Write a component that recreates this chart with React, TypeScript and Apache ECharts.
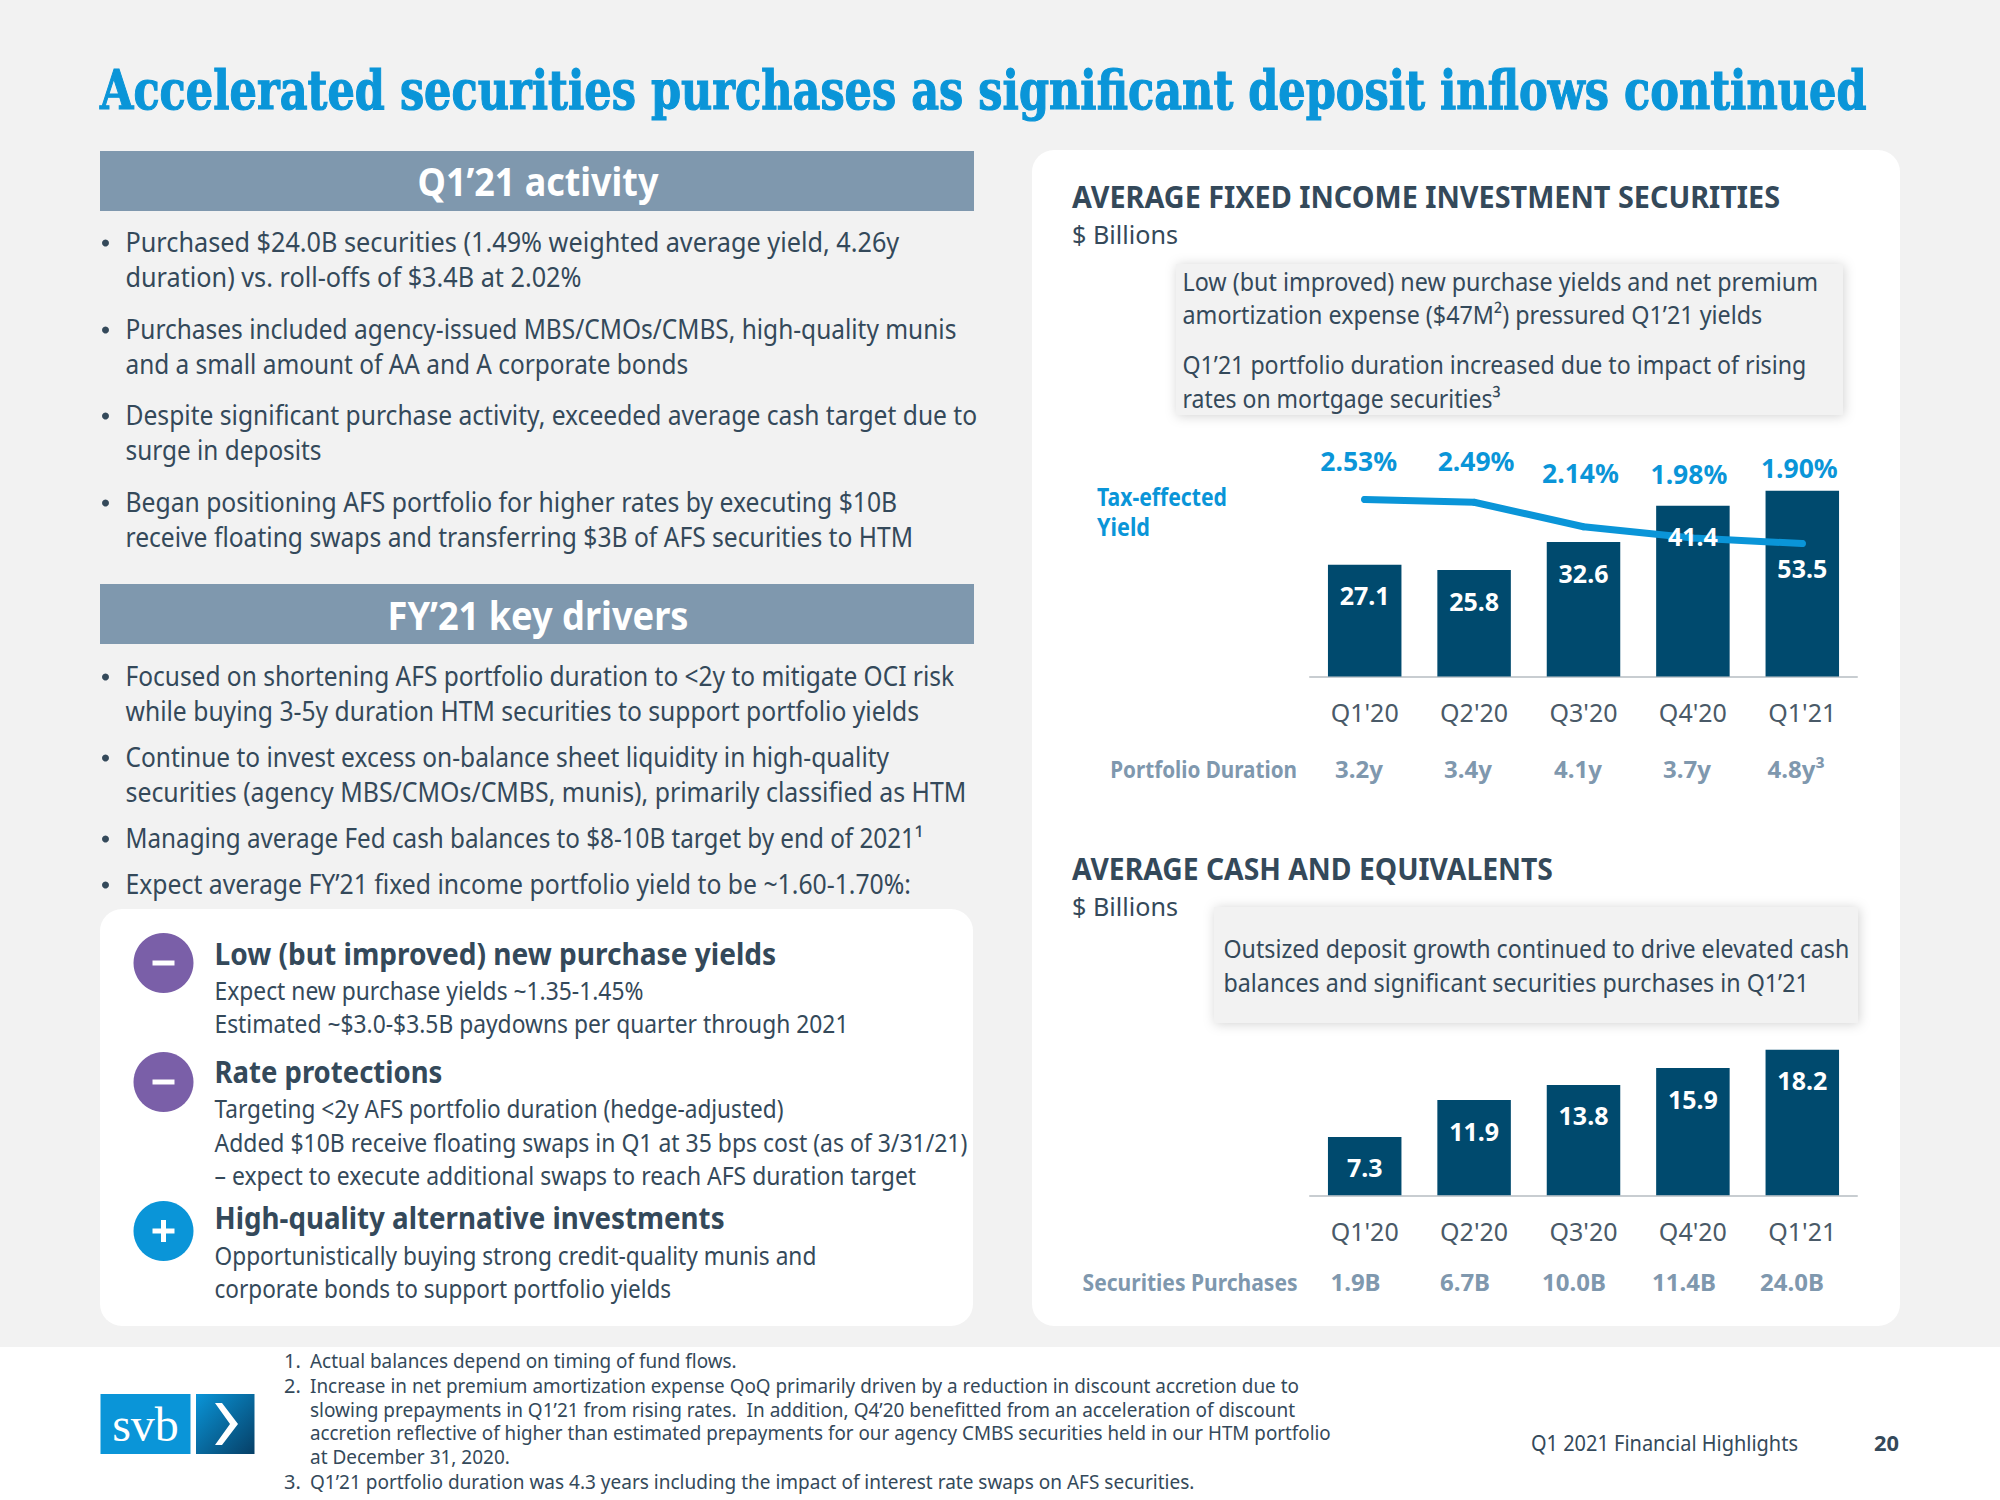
import React, { useEffect, useRef } from "react";
import * as echarts from "echarts";

const quarters = ["Q1'20", "Q2'20", "Q3'20", "Q4'20", "Q1'21"];
const securitiesValues = [27.1, 25.8, 32.6, 41.4, 53.5];
const yieldValues = [2.53, 2.49, 2.14, 1.98, 1.9];
const cashValues = [7.3, 11.9, 13.8, 15.9, 18.2];
const durationLabels = ["3.2y", "3.4y", "4.1y", "3.7y", "4.8y³"];
const purchaseLabels = ["1.9B", "6.7B", "10.0B", "11.4B", "24.0B"];

const BODY = '"Noto Sans"';
const INK = "#34495a";
const SLATE = "#7f98ae";
const BLUE = "#0a95d8";
const NAVY = "#004a6e";
const PURPLE = "#7a5fa8";

const ctx = document.createElement("canvas").getContext("2d") as CanvasRenderingContext2D;

type Opt = { size: number; weight?: number; color?: string; width?: number; align?: string; family?: string; central?: number; stroke?: number };
function T(text: string, x: number, base: number, o: Opt) {
  const { size, weight = 400, color = INK, width, align = "left", family = BODY, central = 0.388, stroke = 0 } = o;
  const font = `${weight} ${size}px ${family}`;
  ctx.font = font;
  const measured = ctx.measureText(text).width;
  const scaleX = width ? width / measured : 1;
  return {
    type: "text",
    x,
    y: base - central * size,
    scaleX,
    silent: true,
    style: {
      text, font, fill: color, textAlign: align, textVerticalAlign: "middle",
      ...(stroke ? { stroke: color, lineWidth: stroke } : {}),
    },
  };
}

const activity: [string, number, number][] = [
  ["Purchased $24.0B securities (1.49% weighted average yield, 4.26y", 252, 774],
  ["duration) vs. roll-offs of $3.4B at 2.02%", 287, 456],
  ["Purchases included agency-issued MBS/CMOs/CMBS, high-quality munis", 339, 831],
  ["and a small amount of AA and A corporate bonds", 374, 563],
  ["Despite significant purchase activity, exceeded average cash target due to", 425, 852],
  ["surge in deposits", 460, 196],
  ["Began positioning AFS portfolio for higher rates by executing $10B", 512, 772],
  ["receive floating swaps and transferring $3B of AFS securities to HTM", 547, 788],
  ["Focused on shortening AFS portfolio duration to <2y to mitigate OCI risk", 686, 829],
  ["while buying 3-5y duration HTM securities to support portfolio yields", 721, 794],
  ["Continue to invest excess on-balance sheet liquidity in high-quality", 767, 764],
  ["securities (agency MBS/CMOs/CMBS, munis), primarily classified as HTM", 802, 841],
  ["Managing average Fed cash balances to $8-10B target by end of 2021¹", 848, 798],
  ["Expect average FY’21 fixed income portfolio yield to be ~1.60-1.70%:", 894, 786],
];
const bulletBaselines = [252, 339, 425, 512, 686, 767, 848, 894];

const driverHeads: [string, number, number][] = [
  ["Low (but improved) new purchase yields", 965, 562],
  ["Rate protections", 1083, 228],
  ["High-quality alternative investments", 1229, 510],
];
const driverLines: [string, number, number][] = [
  ["Expect new purchase yields ~1.35-1.45%", 1000, 429],
  ["Estimated ~$3.0-$3.5B paydowns per quarter through 2021", 1033, 634],
  ["Targeting <2y AFS portfolio duration (hedge-adjusted)", 1118, 569],
  ["Added $10B receive floating swaps in Q1 at 35 bps cost (as of 3/31/21)", 1152, 754],
  ["– expect to execute additional swaps to reach AFS duration target", 1185, 702],
  ["Opportunistically buying strong credit-quality munis and", 1265, 602],
  ["corporate bonds to support portfolio yields", 1298, 457],
];
const callout1: [string, number, number][] = [
  ["Low (but improved) new purchase yields and net premium", 291, 636],
  ["amortization expense ($47M²) pressured Q1’21 yields", 324, 580],
  ["Q1’21 portfolio duration increased due to impact of rising", 374, 624],
  ["rates on mortgage securities³", 408, 318],
];
const callout2: [string, number, number][] = [
  ["Outsized deposit growth continued to drive elevated cash", 958, 626],
  ["balances and significant securities purchases in Q1’21", 992, 586],
];
const footnotes: [string, number, number][] = [
  ["Actual balances depend on timing of fund flows.", 1368, 427],
  ["Increase in net premium amortization expense QoQ primarily driven by a reduction in discount accretion due to", 1393, 990],
  ["slowing prepayments in Q1’21 from rising rates.  In addition, Q4’20 benefitted from an acceleration of discount", 1417, 985],
  ["accretion reflective of higher than estimated prepayments for our agency CMBS securities held in our HTM portfolio", 1440, 1021],
  ["at December 31, 2020.", 1464, 200],
  ["Q1’21 portfolio duration was 4.3 years including the impact of interest rate swaps on AFS securities.", 1489, 885],
];
const footnoteNumbers: [string, number][] = [["1.", 1368], ["2.", 1393], ["3.", 1489]];

const durationX = [1359, 1468, 1578, 1687, 1796];
const purchaseX = [1355.5, 1465, 1574, 1684, 1792];

const yieldLabelOffsets = [[-6, -16], [2, -19], [-3, -32], [-4, -42], [-3, -54]];
const securitiesLabelDistance = [18, 18, 19, 18, 65];

function buildGraphic() {
  const els: any[] = [];
  const rect = (x: number, y: number, width: number, height: number, fill: any, r = 0, extra: any = {}) =>
    els.push({ type: "rect", x, y, silent: true, shape: { x: 0, y: 0, width, height, r }, style: { fill, ...extra } });

  rect(0, 0, 2000, 1347, "#f2f2f2");
  rect(100, 909, 873, 417, "#ffffff", 22);
  rect(1032, 150, 868, 1176, "#ffffff", 22);
  rect(100, 151, 874, 60, SLATE);
  rect(100, 584, 874, 60, SLATE);

  const shadow = { shadowBlur: 12, shadowColor: "rgba(0,0,0,0.18)", shadowOffsetX: 1, shadowOffsetY: 1 };
  rect(1176, 264, 667, 151, "#f2f2f2", 0, shadow);
  rect(1214, 907, 644, 116, "#f2f2f2", 0, shadow);

  els.push(
    T("Accelerated securities purchases as significant deposit inflows continued", 100, 109.5, {
      size: 55, weight: 700, color: BLUE, width: 1767, family: '"DejaVu Serif"', central: 0.35, stroke: 1.2,
    })
  );
  els.push(T("Q1’21 activity", 538, 196, { size: 40, weight: 700, color: "#fff", width: 241, align: "center" }));
  els.push(T("FY’21 key drivers", 538, 630, { size: 40, weight: 700, color: "#fff", width: 301, align: "center" }));

  activity.forEach(([s, y, w]) => els.push(T(s, 125.5, y, { size: 27, width: w })));
  bulletBaselines.forEach((y) =>
    els.push({ type: "circle", silent: true, shape: { cx: 105.5, cy: y - 9, r: 3.5 }, style: { fill: INK } })
  );

  const circles: [number, string, boolean][] = [[963, PURPLE, false], [1082, PURPLE, false], [1231, BLUE, true]];
  circles.forEach(([cy, c, plus]) => {
    els.push({ type: "circle", silent: true, shape: { cx: 163.5, cy, r: 30 }, style: { fill: c } });
    rect(152.5, cy - 2.5, 22, 5, "#fff");
    if (plus) rect(161, cy - 11, 5, 22, "#fff");
  });
  driverHeads.forEach(([s, y, w]) => els.push(T(s, 214.5, y, { size: 30, weight: 700, width: w })));
  driverLines.forEach(([s, y, w]) => els.push(T(s, 214.5, y, { size: 26, width: w })));

  els.push(T("AVERAGE FIXED INCOME INVESTMENT SECURITIES", 1072, 208, { size: 31, weight: 700, width: 708 }));
  els.push(T("$ Billions", 1072, 244, { size: 26, width: 106 }));
  callout1.forEach(([s, y, w]) => els.push(T(s, 1182.5, y, { size: 26, width: w })));
  els.push(T("Tax-effected", 1097, 506, { size: 25, weight: 700, color: BLUE, width: 130 }));
  els.push(T("Yield", 1097, 536, { size: 25, weight: 700, color: BLUE, width: 53 }));
  els.push(T("Portfolio Duration", 1297, 778, { size: 24, weight: 700, color: SLATE, width: 187, align: "right" }));
  durationLabels.forEach((s, i) =>
    els.push(T(s, durationX[i], 778, { size: 24, weight: 700, color: SLATE, align: "center" }))
  );

  els.push(T("AVERAGE CASH AND EQUIVALENTS", 1072, 880, { size: 31, weight: 700, width: 481 }));
  els.push(T("$ Billions", 1072, 916, { size: 26, width: 106 }));
  callout2.forEach(([s, y, w]) => els.push(T(s, 1223.5, y, { size: 26, width: w })));
  els.push(T("Securities Purchases", 1297.5, 1291, { size: 24, weight: 700, color: SLATE, width: 215, align: "right" }));
  purchaseLabels.forEach((s, i) =>
    els.push(T(s, purchaseX[i], 1291, { size: 24, weight: 700, color: SLATE, align: "center" }))
  );

  rect(100.5, 1394, 90, 60, BLUE);
  rect(196, 1394, 58.5, 60, new echarts.graphic.LinearGradient(0, 0, 1, 1, [
    { offset: 0, color: "#0a95d8" },
    { offset: 1, color: "#063f66" },
  ]));
  els.push(T("svb", 145.5, 1437, { size: 48, color: "#fff", align: "center", family: '"Liberation Serif"', central: 0.27 }));
  els.push({
    type: "polygon",
    silent: true,
    shape: { points: [[215, 1403], [222, 1403], [238, 1424], [222, 1445], [215, 1445], [230, 1424]] },
    style: { fill: "#fff" },
  });

  footnotes.forEach(([s, y, w]) => els.push(T(s, 310, y, { size: 20, width: w })));
  footnoteNumbers.forEach(([s, y]) => els.push(T(s, 284, y, { size: 20 })));
  els.push(T("Q1 2021 Financial Highlights", 1531, 1451, { size: 21, width: 267 }));
  els.push(T("20", 1874, 1451, { size: 22, weight: 700, width: 25 }));
  return els;
}

function xAxis(gridIndex: number) {
  return {
    type: "category",
    gridIndex,
    data: quarters,
    axisTick: { show: false },
    axisLine: { lineStyle: { color: "#c8cdd1", width: 2 } },
    axisLabel: { color: "#4a5a68", fontFamily: BODY, fontSize: 25, margin: 23 },
  };
}
function valueAxis(gridIndex: number, min: number, max: number) {
  return { type: "value", gridIndex, min, max, show: false, splitLine: { show: false } };
}
const barLabelBase = { show: true, position: "insideTop", color: "#fff", fontFamily: BODY, fontWeight: 700, fontSize: 25 };

function buildOption(): any {
  return {
    animation: false,
    backgroundColor: "#ffffff",
    grid: [
      { left: 1310, width: 547, top: 490.8, height: 185.7 },
      { left: 1310, width: 547, top: 1035.3, height: 160 },
    ],
    xAxis: [xAxis(0), xAxis(1)],
    yAxis: [valueAxis(0, 0, 45), valueAxis(0, 0, 2.654), valueAxis(1, 0, 20)],
    graphic: { elements: buildGraphic() },
    series: [
      {
        name: "Average fixed income investment securities",
        type: "bar",
        xAxisIndex: 0,
        yAxisIndex: 0,
        barWidth: 73.5,
        z: 2,
        itemStyle: { color: NAVY },
        data: securitiesValues,
      },
      {
        name: "Tax-effected yield",
        type: "line",
        xAxisIndex: 0,
        yAxisIndex: 1,
        z: 3,
        symbol: "circle",
        symbolSize: 7,
        itemStyle: { color: BLUE },
        lineStyle: { color: BLUE, width: 7, cap: "round" },
        data: yieldValues.map((value, i) => ({
          value,
          label: {
            show: true,
            position: "top",
            distance: 5,
            offset: yieldLabelOffsets[i],
            formatter: value.toFixed(2) + "%",
            color: BLUE,
            fontFamily: BODY,
            fontWeight: 700,
            fontSize: 26.5,
          },
        })),
      },
      {
        name: "Securities labels",
        type: "bar",
        xAxisIndex: 0,
        yAxisIndex: 0,
        barWidth: 73.5,
        barGap: "-100%",
        z: 4,
        itemStyle: { color: "transparent" },
        data: securitiesValues.map((value, i) => ({
          value,
          label: { ...barLabelBase, distance: securitiesLabelDistance[i], formatter: value.toFixed(1) },
        })),
      },
      {
        name: "Average cash and equivalents",
        type: "bar",
        xAxisIndex: 1,
        yAxisIndex: 2,
        barWidth: 73.5,
        itemStyle: { color: NAVY },
        label: { ...barLabelBase, distance: 18, formatter: (p: any) => p.value.toFixed(1) },
        data: cashValues,
      },
    ],
  };
}

export default function App() {
  const ref = useRef<HTMLDivElement>(null);
  useEffect(() => {
    document.body.style.margin = "0";
    const chart = echarts.init(ref.current as HTMLDivElement, undefined, { renderer: "svg" });
    chart.setOption(buildOption());
    return () => chart.dispose();
  }, []);
  return <div ref={ref} style={{ width: 2000, height: 1500 }} />;
}
